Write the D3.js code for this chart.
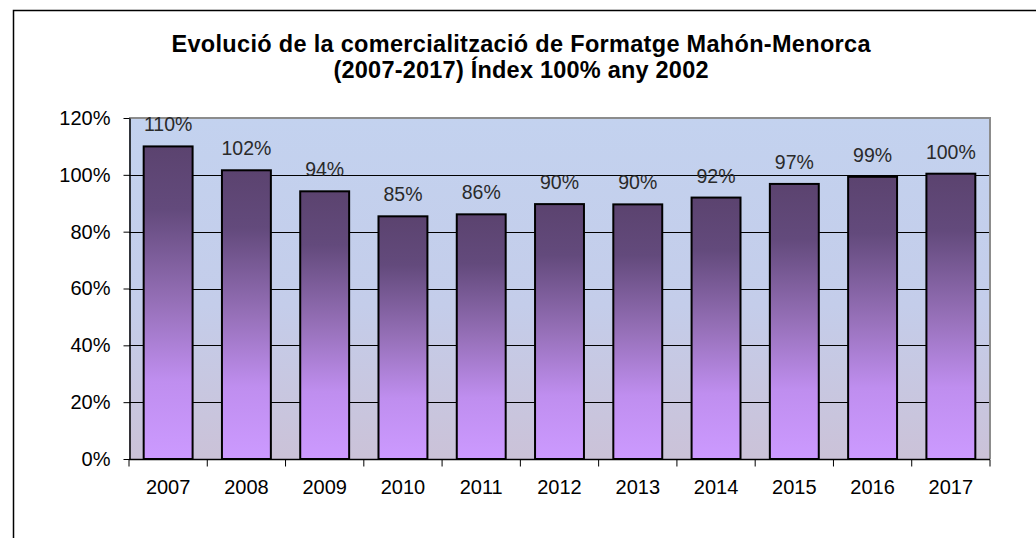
<!DOCTYPE html>
<html><head><meta charset="utf-8">
<script src="https://cdn.jsdelivr.net/npm/d3@7/dist/d3.min.js"></script>
<style>html,body{margin:0;padding:0;background:#fff;}svg{display:block;}</style>
</head><body>
<svg id="chart" width="1036" height="538"></svg>
<script>
const categories = ["2007","2008","2009","2010","2011","2012","2013","2014","2015","2016","2017"];
const values = [110, 101.6, 94.2, 85.4, 86.1, 89.7, 89.6, 92.0, 96.8, 99.3, 100.4];
const yTicks = [0, 20, 40, 60, 80, 100, 120];
const titleLines = ["Evolució de la comercialització de Formatge Mahón-Menorca", "(2007-2017) Índex 100% any 2002"];

const svg = d3.select("#chart");
const font = "Liberation Sans, Arial, sans-serif";
const m = {left:129, right:990, top:118, bottom:459};

// outer frame
svg.append("path").attr("d", "M13.5,538 V10.5 H1036").attr("fill","none").attr("stroke","#000").attr("stroke-width",1.5);

const defs = svg.append("defs");
const bg = defs.append("linearGradient").attr("id","bg").attr("x1",0).attr("y1",0).attr("x2",0).attr("y2",1);
bg.append("stop").attr("offset",0).attr("stop-color","#c3d2ef");
bg.append("stop").attr("offset",0.55).attr("stop-color","#c4cdea");
bg.append("stop").attr("offset",1).attr("stop-color","#cbc2d8");
const bar = defs.append("linearGradient").attr("id","bar").attr("x1",0).attr("y1",0).attr("x2",0).attr("y2",1);
bar.append("stop").attr("offset",0).attr("stop-color","#5b436f");
bar.append("stop").attr("offset",0.2).attr("stop-color","#634a7c");
bar.append("stop").attr("offset",0.5).attr("stop-color","#9670b8");
bar.append("stop").attr("offset",0.75).attr("stop-color","#bf8eef");
bar.append("stop").attr("offset",1).attr("stop-color","#cc9aff");

const x = d3.scaleBand().domain(categories).range([m.left, m.right]).paddingInner(0.375).paddingOuter(0.1875);
const y = d3.scaleLinear().domain([0,120]).range([m.bottom, m.top]);

svg.append("rect").attr("x",m.left).attr("y",m.top).attr("width",m.right-m.left).attr("height",m.bottom-m.top).attr("fill","url(#bg)");

// gridlines
svg.append("g").selectAll("line").data(yTicks.filter(d=>d>0 && d<120)).join("line")
  .attr("x1",m.left).attr("x2",m.right).attr("y1",d=>Math.round(y(d))+0.5).attr("y2",d=>Math.round(y(d))+0.5)
  .attr("stroke","#000").attr("stroke-width",1);

// plot border (top/right grey)
svg.append("path").attr("d",`M${m.left},${m.top} H${m.right} V${m.bottom}`).attr("fill","none").attr("stroke","#8c8c8c").attr("stroke-width",2);

// bars
svg.append("g").selectAll("rect").data(categories).join("rect")
  .attr("x",d=>x(d)).attr("width",x.bandwidth())
  .attr("y",(d,i)=>y(values[i])).attr("height",(d,i)=>y(0)-y(values[i]))
  .attr("fill","url(#bar)").attr("stroke","#000").attr("stroke-width",2);

// value labels
const fmt = d3.format(".0%");
svg.append("g").selectAll("text").data(categories).join("text")
  .attr("x",d=>x(d)+x.bandwidth()/2).attr("y",(d,i)=>y(values[i])-15)
  .attr("text-anchor","middle").attr("font-family",font).attr("font-size","19.5px").attr("fill","#2a2a2a")
  .text((d,i)=>fmt(values[i]/100));

// y axis
const yAxis = d3.axisLeft(y).tickValues(yTicks).tickSize(6).tickSizeOuter(0).tickFormat(d=>d+"%");
const gy = svg.append("g").attr("transform",`translate(${m.left+0.5},0)`).call(yAxis);
gy.select(".domain").attr("stroke","#000").attr("stroke-width",1.5);
gy.selectAll(".tick line").attr("stroke","#000");
gy.selectAll(".tick text").attr("font-family",font).attr("font-size","20px").attr("fill","#000").attr("x",-19);

// x axis with ticks at band boundaries
const gx = svg.append("g").attr("transform",`translate(0,${m.bottom+0.5})`);
gx.append("line").attr("x1",m.left).attr("x2",m.right).attr("stroke","#000").attr("stroke-width",1.5);
const step = x.step();
const bounds = categories.map(c=>x(c)-x.paddingInner()*step/2).concat([m.right]);
gx.selectAll("line.tk").data(bounds).join("line").attr("class","tk")
  .attr("x1",d=>d).attr("x2",d=>d).attr("y1",0).attr("y2",7).attr("stroke","#000");
gx.selectAll("text").data(categories).join("text")
  .attr("x",d=>x(d)+x.bandwidth()/2).attr("y",34)
  .attr("text-anchor","middle").attr("font-family",font).attr("font-size","20px").attr("fill","#000")
  .text(d=>d);

// title
const titleWidths = [699, 375];
svg.append("g").selectAll("text").data(titleLines).join("text")
  .attr("x",521).attr("y",(d,i)=>52+i*26)
  .attr("text-anchor","middle").attr("font-family",font).attr("font-weight","bold").attr("font-size","23.5px").attr("fill","#000")
  .attr("textLength",(d,i)=>titleWidths[i]).attr("lengthAdjust","spacing")
  .text(d=>d);
</script>
</body></html>
